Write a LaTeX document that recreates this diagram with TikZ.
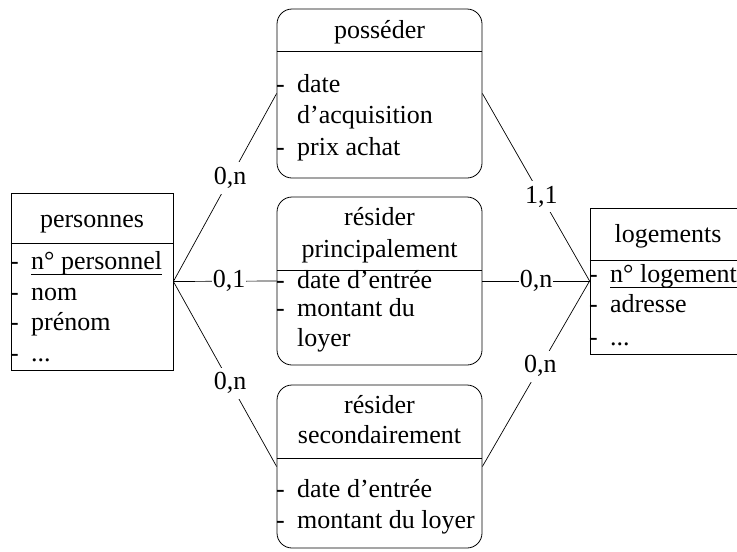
\documentclass[tikz,border=0pt]{standalone}
\usepackage{fontspec}
\setmainfont{Liberation Serif}
\begin{document}
\begin{tikzpicture}[x=1pt,y=-1pt, font=\fontsize{26}{31}\selectfont,
  ent/.style={draw, line width=0.8pt, inner sep=0pt},
  rel/.style={ent, rounded corners=15pt},
  sepline/.style={line width=0.8pt},
  lnk/.style={line width=0.7pt},
  card/.style={fill=white, inner xsep=1pt, inner ysep=5pt},
  ttl/.style={anchor=base, inner sep=0pt},
  att/.style={anchor=base west, inner sep=0pt},
]
\useasboundingbox (0,0) rectangle (737,552);
\clip (0,0) rectangle (737,552);
\newcommand{\dsh}{\makebox[21pt][l]{-}}
\newcommand{\ulin}[1]{\setbox0\hbox{#1}\rlap{\rule[-6pt]{\wd0}{1pt}}\box0}

% boxes
\node[ent, minimum width=162pt, minimum height=177pt] (pers) at (92,281.5) {};
\node[ent, minimum width=172pt, minimum height=146pt] (loge) at (676,281) {};
\node[rel, minimum width=205pt, minimum height=169pt] (poss) at (379.5,93.5) {};
\node[rel, minimum width=205pt, minimum height=168pt] (resp) at (379.5,281) {};
\node[rel, minimum width=205pt, minimum height=163pt] (ress) at (379.5,466.5) {};

% separators
\draw[sepline] (pers.west |- 0,243) -- (pers.east |- 0,243);
\draw[sepline] (loge.west |- 0,260) -- (loge.east |- 0,260);
\draw[sepline] (poss.west |- 0,51) -- (poss.east |- 0,51);
\draw[sepline] (resp.west |- 0,270) -- (resp.east |- 0,270);
\draw[sepline] (ress.west |- 0,458) -- (ress.east |- 0,458);

% personnes
\node[ttl] (pt) at (92,227) {personnes};
\node[att] (p1) at (10,269) {\dsh\ulin{n° personnel}};
\node[att] (p2) at (10,300) {\dsh nom};
\node[att] (p3) at (10,330) {\dsh prénom};
\node[att] (p4) at (10,361) {\dsh ...};

% logements
\node[ttl] (lt) at (668,242) {logements};
\node[att] (l1) at (589,282) {\dsh\ulin{n° logement}};
\node[att] (l2) at (589,312) {\dsh adresse};
\node[att] (l3) at (589,345) {\dsh ...};

% posseder
\node[ttl] (ot) at (379.5,38) {posséder};
\node[att] (o1) at (276,92) {\dsh date};
\node[att] (o2) at (297,123) {d’acquisition};
\node[att] (o3) at (276,155) {\dsh prix achat};

% resider principalement
\node[ttl] (rt1) at (379.5,225) {résider};
\node[ttl] (rt2) at (379.5,257) {principalement};
\node[att] (r1) at (276,288) {\dsh date d’entrée};
\node[att] (r2) at (276,316) {\dsh montant du};
\node[att] (r3) at (297,346) {loyer};

% resider secondairement
\node[ttl] (st1) at (379.5,413) {résider};
\node[ttl] (st2) at (379.5,443) {secondairement};
\node[att] (s1) at (276,497) {\dsh date d’entrée};
\node[att] (s2) at (276,528) {\dsh montant du loyer};

% connectors
\draw[lnk] (pers.east) -- node[card, pos=0.55] (c1) {0,n} (poss.west);
\draw[lnk] (pers.east) -- node[card, pos=0.54] (c2) {0,1} (resp.west);
\draw[lnk] (pers.east) -- node[card, pos=0.55] (c3) {0,n} (ress.west);
\draw[lnk] (poss.east) -- node[card, pos=0.55] (c4) {1,1} (loge.west);
\draw[lnk] (resp.east) -- node[card, pos=0.5] (c5) {0,n} (loge.west);
\draw[lnk] (ress.east) -- node[card, pos=0.54] (c6) {0,n} (loge.west);
\end{tikzpicture}
\end{document}
